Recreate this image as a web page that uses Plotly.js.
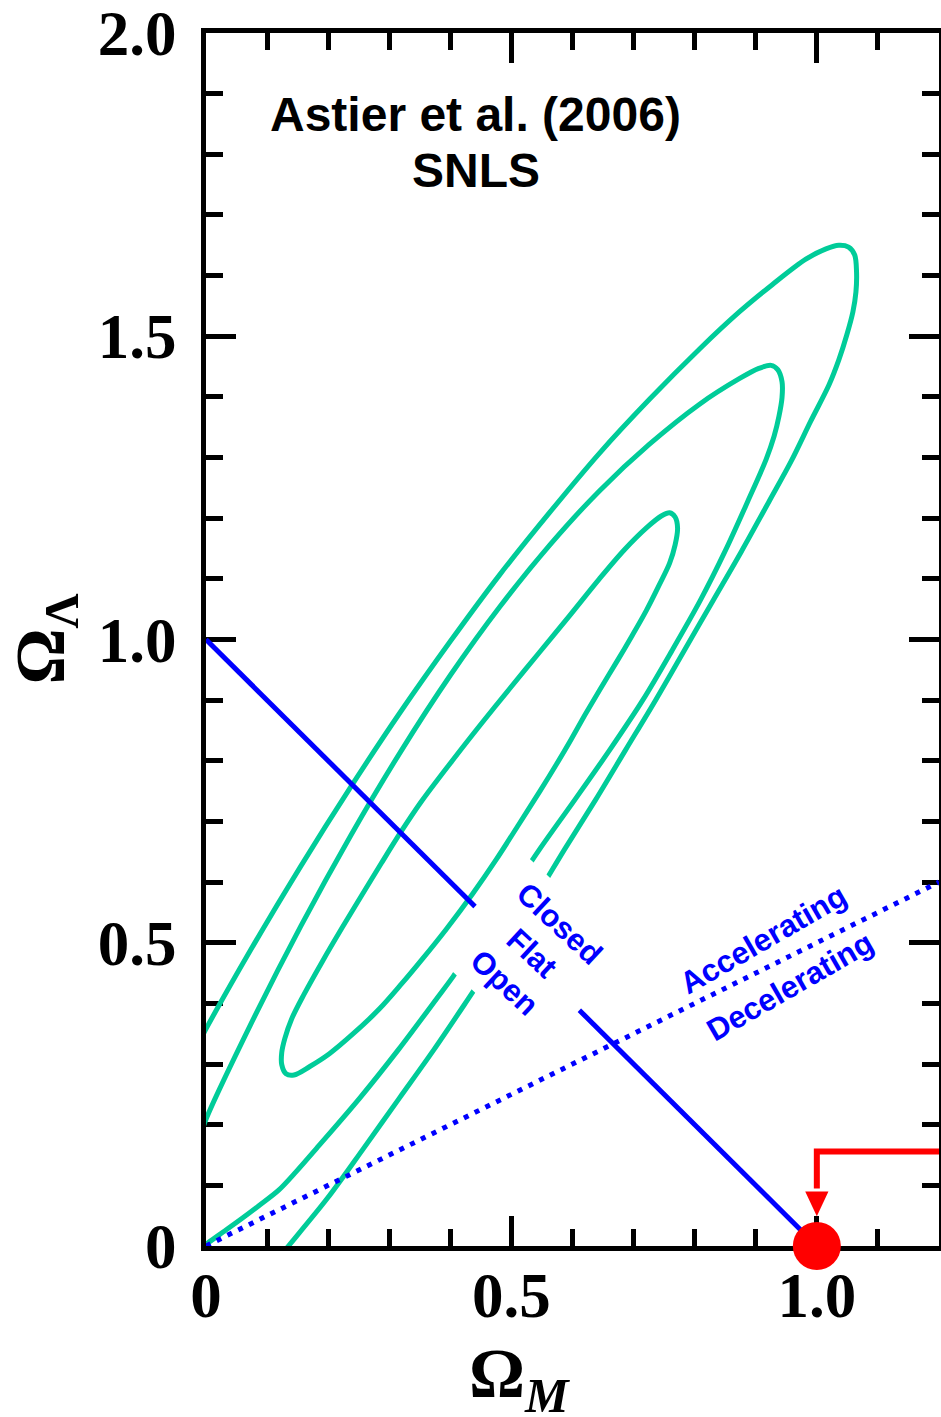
<!DOCTYPE html>
<html>
<head>
<meta charset="utf-8">
<script src="https://cdn.plot.ly/plotly-3.0.1.min.js"></script>
<style>
  html, body { margin: 0; padding: 0; background: #fff; }
  #chart { width: 941px; height: 1417px; }
</style>
</head>
<body>
<div id="chart"></div>
<script>
// SNLS first-year constraints in the (Omega_M, Omega_Lambda) plane.
// Confidence contours (1, 2 and 3 sigma), traced as (Omega_M, Omega_Lambda) pairs.
const sigma1OmegaM = [0.548,0.512,0.475,0.436,0.393,0.354,0.320,0.284,0.241,0.202,0.170,0.144,0.131,0.124,0.124,0.129,0.140,0.160,0.191,0.223,0.256,0.287,0.318,0.352,0.400,0.449,0.498,0.546,0.595,0.644,0.685,0.721,0.746,0.759,0.768,0.772,0.768,0.759,0.742,0.721,0.698,0.674,0.644,0.620,0.597,0.573,0.548];
const sigma1OmegaL = [0.752,0.695,0.637,0.580,0.522,0.473,0.432,0.391,0.350,0.317,0.296,0.282,0.284,0.299,0.319,0.342,0.374,0.414,0.470,0.525,0.580,0.631,0.681,0.732,0.796,0.859,0.920,0.979,1.039,1.100,1.148,1.184,1.204,1.209,1.202,1.184,1.156,1.126,1.090,1.048,1.007,0.966,0.916,0.875,0.834,0.793,0.752];

const sigma2OmegaM = [-0.011,0,0.073,0.155,0.237,0.318,0.400,0.481,0.563,0.644,0.726,0.808,0.873,0.905,0.925,0.936,0.943,0.943,0.938,0.930,0.917,0.887,0.850,0.809,0.763,0.715,0.661,0.604,0.546,0.491,0.434,0.405,0.377,0.316,0.251,0.181,0.148,0.119,0.086,0.057,0.028,0,-0.020];
const sigma2OmegaL = [0.177,0.209,0.365,0.527,0.677,0.814,0.941,1.054,1.156,1.245,1.322,1.388,1.430,1.447,1.452,1.445,1.425,1.399,1.368,1.335,1.297,1.228,1.146,1.064,0.982,0.900,0.818,0.736,0.654,0.571,0.489,0.445,0.407,0.325,0.243,0.161,0.123,0.092,0.066,0.044,0.023,0.003,-0.010];

const sigma3OmegaM = [-0.024,0,0.073,0.155,0.237,0.318,0.400,0.481,0.563,0.644,0.726,0.808,0.873,0.927,0.982,1.015,1.036,1.052,1.062,1.065,1.064,1.059,1.049,1.036,1.020,0.990,0.958,0.922,0.877,0.830,0.783,0.736,0.687,0.638,0.587,0.537,0.483,0.429,0.374,0.316,0.258,0.199,0.135,0.122];
const sigma3OmegaL = [0.312,0.358,0.488,0.626,0.757,0.880,0.997,1.107,1.210,1.307,1.396,1.479,1.540,1.585,1.627,1.644,1.650,1.647,1.634,1.606,1.573,1.540,1.502,1.461,1.420,1.360,1.294,1.228,1.146,1.064,0.982,0.900,0.818,0.736,0.654,0.571,0.489,0.407,0.325,0.243,0.161,0.079,0,-0.016];

// Flat universe: Omega_M + Omega_Lambda = 1
const flatOmegaM = [0, 1];
const flatOmegaL = [1, 0];

// Zero deceleration: Omega_Lambda = Omega_M / 2
const q0OmegaM = [0, 1.2];
const q0OmegaL = [0, 0.6];

// Einstein-de Sitter point
const edsOmegaM = [1.0];
const edsOmegaL = [0];

// Axis ticks
const xTickVals = [0, 0.5, 1.0];
const xTickText = ['0', '0.5', '1.0'];
const yTickVals = [0, 0.5, 1.0, 1.5, 2.0];
const yTickText = ['0', '0.5', '1.0', '1.5', '2.0'];

// Arrow pointing down to the Einstein-de Sitter point
const arrowLevel = 0.156, arrowHeadBase = 0.090, arrowTip = 0.049, arrowHalfWidth = 0.019;

const GREEN = '#00cc99';
const BLUE = '#0000ff';
const RED = '#ff0000';
const SERIF = '"Liberation Serif", "Times New Roman", serif';
const SANS = '"Liberation Sans", Arial, Helvetica, sans-serif';

const contour = (x, y) => ({
  type: 'scatter', mode: 'lines', x, y,
  line: {color: GREEN, width: 5, shape: 'spline', smoothing: 0.9},
  hoverinfo: 'skip'
});

const traces = [
  contour(sigma3OmegaM, sigma3OmegaL),
  contour(sigma2OmegaM, sigma2OmegaL),
  contour(sigma1OmegaM, sigma1OmegaL),
  {type: 'scatter', mode: 'lines', x: flatOmegaM, y: flatOmegaL,
   line: {color: BLUE, width: 5}, hoverinfo: 'skip'},
  {type: 'scatter', mode: 'lines', x: q0OmegaM, y: q0OmegaL,
   line: {color: BLUE, width: 5, dash: '5px,7px'}, hoverinfo: 'skip'},
  {type: 'scatter', mode: 'markers', x: edsOmegaM, y: edsOmegaL,
   marker: {color: RED, size: 48, line: {width: 0}}, cliponaxis: false, hoverinfo: 'skip'}
];

const axisCommon = {
  showgrid: false, zeroline: false,
  showline: true, linecolor: 'black', linewidth: 5, mirror: 'allticks',
  ticks: 'inside', ticklen: 30, tickwidth: 5, tickcolor: 'black',
  tickmode: 'array', ticklabeloverflow: 'allow',
  tickfont: {family: SERIF, size: 63, color: 'black', weight: 'bold'},
  layer: 'below traces', fixedrange: true,
  minor: {tickmode: 'linear', tick0: 0, dtick: 0.1, ticks: 'inside',
          ticklen: 17, tickwidth: 5, tickcolor: 'black', showgrid: false}
};

const labelFont = {family: SANS, size: 31, color: BLUE, weight: 'bold'};

const layout = {
  width: 941, height: 1417,
  margin: {l: 206, r: 2, t: 33, b: 171, pad: 0},
  paper_bgcolor: 'white', plot_bgcolor: 'white',
  showlegend: false,
  xaxis: Object.assign({}, axisCommon, {
    range: [0, 1.2], tickvals: xTickVals, ticktext: xTickText, ticklabelstandoff: -10
  }),
  yaxis: Object.assign({}, axisCommon, {
    range: [0, 2], tickvals: yTickVals, ticktext: yTickText, ticklabelstandoff: 12
  }),
  shapes: [
    {type: 'path', xref: 'x', yref: 'y', layer: 'above',
     path: `M 1.25,${arrowLevel} L 1.0,${arrowLevel} L 1.0,${arrowHeadBase + 0.005}`,
     line: {color: RED, width: 6}},
    {type: 'path', xref: 'x', yref: 'y', layer: 'above',
     path: `M ${1 - arrowHalfWidth},${arrowHeadBase} L ${1 + arrowHalfWidth},${arrowHeadBase} L 1.0,${arrowTip} Z`,
     fillcolor: RED, line: {width: 0}}
  ],
  annotations: [
    {xref: 'x', yref: 'y', x: 0.442, y: 1.866, text: 'Astier et al. (2006)', showarrow: false,
     xanchor: 'center', yanchor: 'middle',
     font: {family: SANS, size: 48, color: 'black', weight: 'bold'}},
    {xref: 'x', yref: 'y', x: 0.442, y: 1.773, text: 'SNLS', showarrow: false,
     xanchor: 'center', yanchor: 'middle',
     font: {family: SANS, size: 48, color: 'black', weight: 'bold'}},
    {xref: 'x', yref: 'y', x: 0.533, y: 0.483, text: 'Closed<br>Flat<br>Open', showarrow: false,
     xanchor: 'center', yanchor: 'middle',
     textangle: 43, align: 'center', bgcolor: 'white', width: 138, height: 126, borderpad: 4,
     font: labelFont},
    {xref: 'x', yref: 'y', x: 0.912, y: 0.506, text: 'Accelerating', showarrow: false,
     xanchor: 'center', yanchor: 'middle', textangle: -30, font: labelFont},
    {xref: 'x', yref: 'y', x: 0.956, y: 0.428, text: 'Decelerating', showarrow: false,
     xanchor: 'center', yanchor: 'middle', textangle: -30, font: labelFont},
    {xref: 'x', yref: 'paper', x: 0.514, y: -0.110, text: 'Ω<sub><i>M</i></sub>', showarrow: false,
     xanchor: 'center', yanchor: 'middle',
     font: {family: SERIF, size: 70, color: 'black', weight: 'bold'}},
    {xref: 'paper', yref: 'y', x: -0.2196, y: 1.0, text: 'Ω<sub>Λ</sub>', showarrow: false,
     xanchor: 'center', yanchor: 'middle',
     textangle: -90, font: {family: SERIF, size: 70, color: 'black', weight: 'bold'}}
  ]
};

Plotly.newPlot('chart', traces, layout, {staticPlot: true, displayModeBar: false});
</script>
</body>
</html>
